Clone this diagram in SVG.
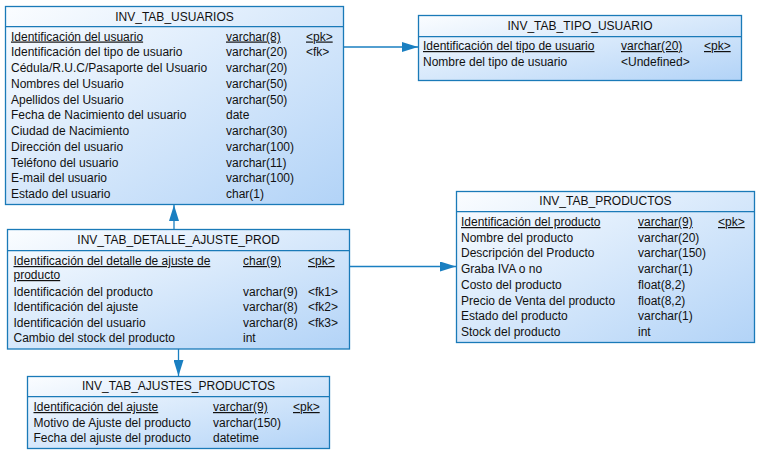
<svg xmlns="http://www.w3.org/2000/svg" width="762" height="463" viewBox="0 0 762 463">
<defs>
<linearGradient id="g" x1="0" y1="0" x2="1" y2="1">
<stop offset="0" stop-color="#fbfdff"/>
<stop offset="1" stop-color="#b2d3f7"/>
</linearGradient>
<marker id="arr" viewBox="0 0 16 10" refX="16" refY="5" markerWidth="16" markerHeight="10" markerUnits="userSpaceOnUse" orient="auto">
<path d="M0,0 L16,5 L0,10 Z" fill="#1a7fc1"/>
</marker>
</defs>
<style>
.box{fill:url(#g);stroke:#1a7ab8;stroke-width:1.3}
.sep{stroke:#1a7ab8;stroke-width:1.3}
text{font-family:"Liberation Sans",Arial,sans-serif;font-size:12px;fill:#111}
.h{text-anchor:middle}
.u{text-decoration:underline}
.c{stroke:#1a7fc1;stroke-width:1.3;fill:none}
</style>
<rect width="762" height="463" fill="#fff"/>
<g id="connectors">
<line class="c" x1="343.5" y1="47" x2="418" y2="47" marker-end="url(#arr)"/>
<line class="c" x1="174" y1="229" x2="174" y2="205" marker-end="url(#arr)"/>
<line class="c" x1="349.5" y1="266.5" x2="456" y2="266.5" marker-end="url(#arr)"/>
<line class="c" x1="178.5" y1="349" x2="178.5" y2="376" marker-end="url(#arr)"/>
</g>
<g id="INV_TAB_USUARIOS">
<rect class="box" x="5.5" y="6.5" width="338" height="198"/>
<line class="sep" x1="5.5" y1="26.7" x2="343.5" y2="26.7"/>
<text class="h" x="174.5" y="21">INV_TAB_USUARIOS</text>
<text class="u" x="11" y="40.5">Identificación del usuario</text><text class="u" x="226" y="40.5">varchar(8)</text><text class="u" x="306" y="40.5">&lt;pk&gt;</text>
<text x="11" y="56.3">Identificación del tipo de usuario</text><text x="226" y="56.3">varchar(20)</text><text x="306" y="56.3">&lt;fk&gt;</text>
<text x="11" y="72">Cédula/R.U.C/Pasaporte del Usuario</text><text x="226" y="72">varchar(20)</text>
<text x="11" y="87.8">Nombres del Usuario</text><text x="226" y="87.8">varchar(50)</text>
<text x="11" y="103.5">Apellidos del Usuario</text><text x="226" y="103.5">varchar(50)</text>
<text x="11" y="119.3">Fecha de Nacimiento del usuario</text><text x="226" y="119.3">date</text>
<text x="11" y="135">Ciudad de Nacimiento</text><text x="226" y="135">varchar(30)</text>
<text x="11" y="150.8">Dirección del usuario</text><text x="226" y="150.8">varchar(100)</text>
<text x="11" y="166.5">Teléfono del usuario</text><text x="226" y="166.5">varchar(11)</text>
<text x="11" y="182.3">E-mail del usuario</text><text x="226" y="182.3">varchar(100)</text>
<text x="11" y="198">Estado del usuario</text><text x="226" y="198">char(1)</text>
</g>
<g id="INV_TAB_TIPO_USUARIO">
<rect class="box" x="418.5" y="15.5" width="323" height="65"/>
<line class="sep" x1="418.5" y1="36.7" x2="741.5" y2="36.7"/>
<text class="h" x="580" y="29.5">INV_TAB_TIPO_USUARIO</text>
<text class="u" x="423" y="50">Identificación del tipo de usuario</text><text class="u" x="621" y="50">varchar(20)</text><text class="u" x="704" y="50">&lt;pk&gt;</text>
<text x="423" y="66">Nombre del tipo de usuario</text><text x="621" y="66">&lt;Undefined&gt;</text>
</g>
<g id="INV_TAB_PRODUCTOS">
<rect class="box" x="456.5" y="191.5" width="298" height="151"/>
<line class="sep" x1="456.5" y1="211.7" x2="754.5" y2="211.7"/>
<text class="h" x="605.5" y="205">INV_TAB_PRODUCTOS</text>
<text class="u" x="461" y="226">Identificación del producto</text><text class="u" x="638" y="226">varchar(9)</text><text class="u" x="718" y="226">&lt;pk&gt;</text>
<text x="461" y="241.7">Nombre del producto</text><text x="638" y="241.7">varchar(20)</text>
<text x="461" y="257.4">Descripción del Producto</text><text x="638" y="257.4">varchar(150)</text>
<text x="461" y="273.1">Graba IVA o no</text><text x="638" y="273.1">varchar(1)</text>
<text x="461" y="288.8">Costo del producto</text><text x="638" y="288.8">float(8,2)</text>
<text x="461" y="304.5">Precio de Venta del producto</text><text x="638" y="304.5">float(8,2)</text>
<text x="461" y="320.2">Estado del producto</text><text x="638" y="320.2">varchar(1)</text>
<text x="461" y="335.9">Stock del producto</text><text x="638" y="335.9">int</text>
</g>
<g id="INV_TAB_DETALLE_AJUSTE_PROD">
<rect class="box" x="7.5" y="229.5" width="342" height="119.5"/>
<line class="sep" x1="7.5" y1="250.7" x2="349.5" y2="250.7"/>
<text class="h" x="178.5" y="244.3">INV_TAB_DETALLE_AJUSTE_PROD</text>
<text class="u" x="13.5" y="265">Identificación del detalle de ajuste de </text><text class="u" x="243" y="265">char(9)</text><text class="u" x="308" y="265">&lt;pk&gt;</text>
<text class="u" x="13.5" y="279">producto</text>
<text x="13.5" y="296">Identificación del producto</text><text x="243" y="296">varchar(9)</text><text x="308" y="296">&lt;fk1&gt;</text>
<text x="13.5" y="311.3">Identificación del ajuste</text><text x="243" y="311.3">varchar(8)</text><text x="308" y="311.3">&lt;fk2&gt;</text>
<text x="13.5" y="327">Identificación del usuario</text><text x="243" y="327">varchar(8)</text><text x="308" y="327">&lt;fk3&gt;</text>
<text x="13.5" y="342.3">Cambio del stock del producto</text><text x="243" y="342.3">int</text>
</g>
<g id="INV_TAB_AJUSTES_PRODUCTOS">
<rect class="box" x="27.5" y="376.5" width="302" height="72"/>
<line class="sep" x1="27.5" y1="396.7" x2="329.5" y2="396.7"/>
<text class="h" x="178.5" y="389.6">INV_TAB_AJUSTES_PRODUCTOS</text>
<text class="u" x="33.5" y="411">Identificación del ajuste</text><text class="u" x="213" y="411">varchar(9)</text><text class="u" x="293" y="411">&lt;pk&gt;</text>
<text x="33.5" y="426.6">Motivo de Ajuste del producto</text><text x="213" y="426.6">varchar(150)</text>
<text x="33.5" y="442">Fecha del ajuste del producto</text><text x="213" y="442">datetime</text>
</g>
</svg>
